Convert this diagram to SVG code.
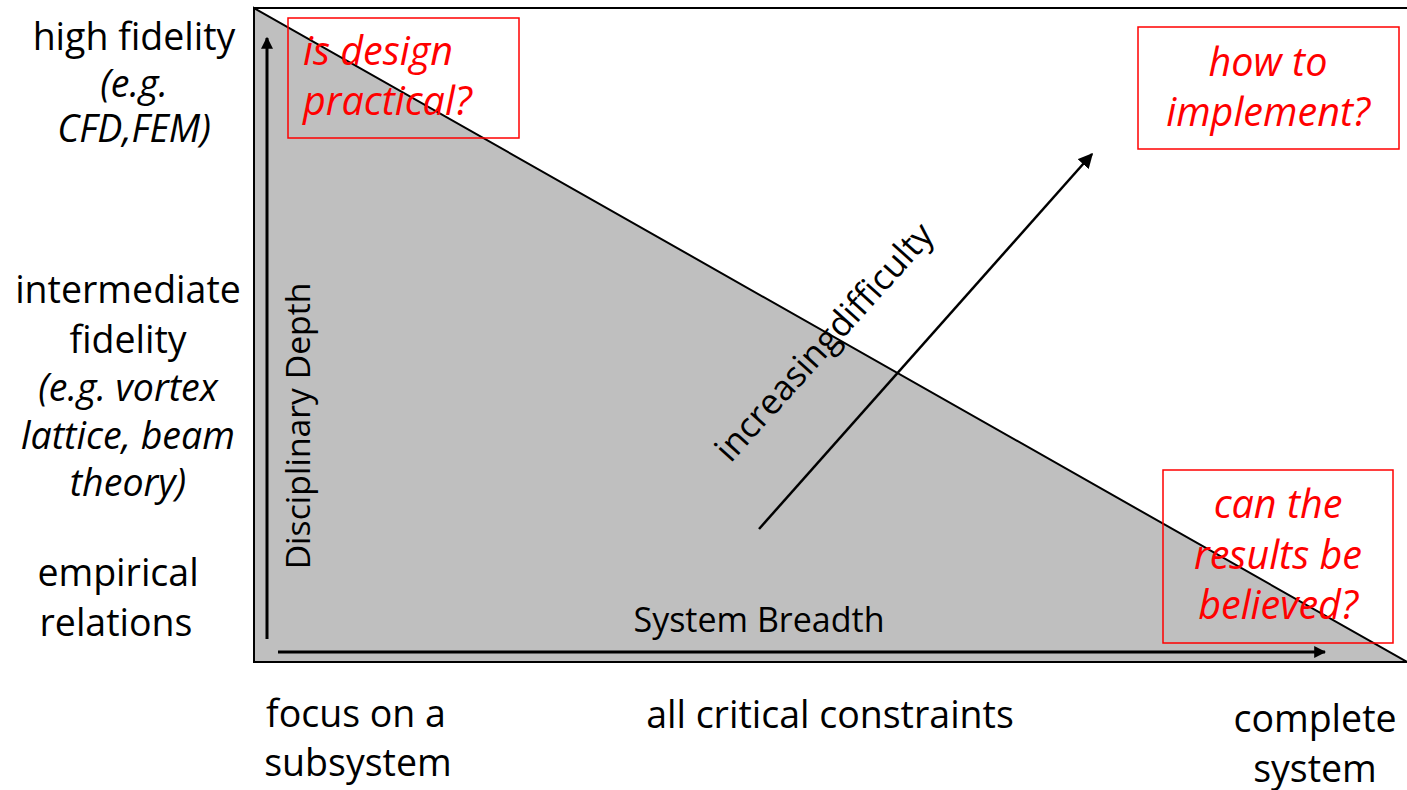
<svg xmlns="http://www.w3.org/2000/svg" width="1407" height="790" viewBox="0 0 1407 790">
<style>
text{font-family:"Open Sans","Liberation Sans",sans-serif;fill:#000}
.lbl{font-size:37.5px;text-anchor:middle}
.it{font-style:italic}
.red{fill:#ff0000;font-style:italic;font-size:39.5px}
.box{fill:none;stroke:#ff0000;stroke-width:1.5}
</style>
<defs>
<marker id="ah" viewBox="0 0 10 10" refX="9" refY="5" markerWidth="4" markerHeight="4" orient="auto" markerUnits="strokeWidth">
<path d="M0,0 L10,5 L0,10 z" fill="#000"/>
</marker>
<marker id="ah2" viewBox="0 0 10 10" refX="9" refY="5" markerWidth="6" markerHeight="6" orient="auto" markerUnits="strokeWidth">
<path d="M0,0 L10,5 L0,10 z" fill="#000"/>
</marker>
</defs>
<g id="frame">
<line x1="254" y1="8" x2="1407" y2="8" stroke="#000" stroke-width="2"/>
<polygon points="254,8 1407,662 254,662" fill="#bfbfbf" stroke="#000" stroke-width="2"/>
</g>
<g id="connectors">
<line x1="267" y1="639" x2="267" y2="38" stroke="#000" stroke-width="3" marker-end="url(#ah)"/>
<line x1="278" y1="652" x2="1325" y2="652" stroke="#000" stroke-width="3" marker-end="url(#ah)"/>
<line x1="759" y1="529" x2="1092" y2="154" stroke="#000" stroke-width="2.5" marker-end="url(#ah2)"/>
</g>
<g id="axis-labels">
<text x="297" y="426" font-size="33.7" text-anchor="middle" transform="rotate(-90 297 426)" dominant-baseline="central">Disciplinary Depth</text>
<text x="759" y="632" font-size="34" text-anchor="middle">System Breadth</text>
<text x="823" y="341" font-size="35" text-anchor="middle" word-spacing="-9" transform="rotate(-48 823 341)" dominant-baseline="central">increasing difficulty</text>
</g>
<g id="y-levels">
<text class="lbl" x="134" y="50">high fidelity</text>
<text class="lbl it" x="134" y="97">(e.g.</text>
<text class="lbl it" x="134" y="142">CFD,FEM)</text>
<text class="lbl" x="128" y="303">intermediate</text>
<text class="lbl" x="128" y="353">fidelity</text>
<text class="lbl it" x="128" y="401">(e.g. vortex</text>
<text class="lbl it" x="128" y="449">lattice, beam</text>
<text class="lbl it" x="128" y="496">theory)</text>
<text class="lbl" x="118" y="586">empirical</text>
<text class="lbl" x="116" y="636">relations</text>
</g>
<g id="x-levels">
<text class="lbl" x="356" y="727">focus on a</text>
<text class="lbl" x="358" y="776">subsystem</text>
<text class="lbl" x="830" y="728">all critical constraints</text>
<text class="lbl" x="1315" y="732">complete</text>
<text class="lbl" x="1315" y="782">system</text>
</g>
<g id="q-practical">
<rect class="box" x="288" y="18" width="231" height="120"/>
<text class="red" x="303" y="65">is design</text>
<text class="red" x="303" y="115">practical?</text>
</g>
<g id="q-implement">
<rect class="box" x="1138" y="27" width="261" height="122"/>
<text class="red" x="1268" y="76" text-anchor="middle">how to</text>
<text class="red" x="1268" y="126" text-anchor="middle">implement?</text>
</g>
<g id="q-believed">
<rect class="box" x="1163" y="470" width="230" height="173"/>
<text class="red" x="1278" y="518" text-anchor="middle">can the</text>
<text class="red" x="1278" y="569" text-anchor="middle">results be</text>
<text class="red" x="1278" y="619" text-anchor="middle">believed?</text>
</g>
</svg>
